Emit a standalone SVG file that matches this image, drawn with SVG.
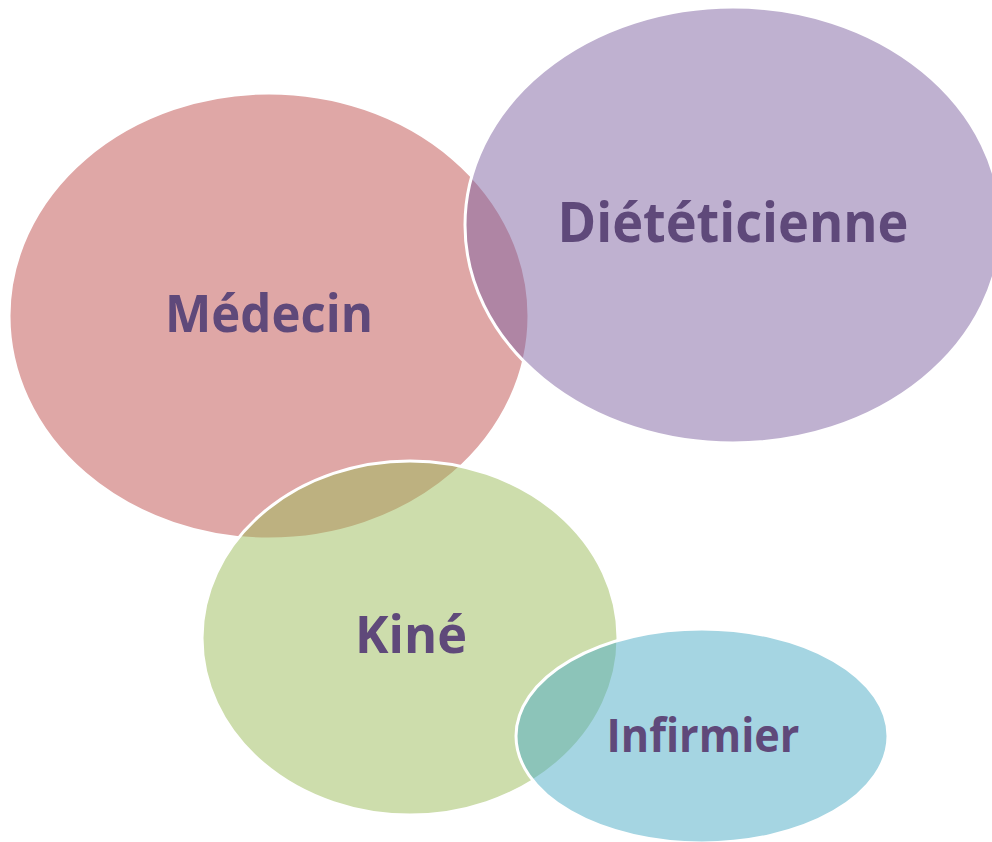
<svg xmlns="http://www.w3.org/2000/svg" width="992" height="842" viewBox="0 0 992 842">
<style>
.n{stroke:#ffffff;stroke-width:3;fill-opacity:0.5}
.t{font-family:"Open Sans","Liberation Sans",sans-serif;font-weight:bold;fill:#5F497A;text-anchor:middle}
</style>
<rect width="992" height="842" fill="#ffffff"/>
<g id="medecin">
<ellipse class="n" cx="269" cy="316" rx="260" ry="223" fill="#C0504D"/>
<text class="t" x="269" y="332" font-size="52" textLength="208" lengthAdjust="spacingAndGlyphs">Médecin</text>
</g>
<g id="dieteticienne">
<ellipse class="n" cx="733" cy="225" rx="268" ry="218" fill="#8064A2"/>
<text class="t" x="733" y="242" font-size="56" textLength="351" lengthAdjust="spacingAndGlyphs">Diététicienne</text>
</g>
<g id="kine">
<ellipse class="n" cx="410" cy="638" rx="208" ry="177" fill="#9BBB59"/>
<text class="t" x="411" y="653" font-size="52" textLength="112" lengthAdjust="spacingAndGlyphs">Kiné</text>
</g>
<g id="infirmier">
<ellipse class="n" cx="702" cy="736" rx="186" ry="107" fill="#4BACC6"/>
<text class="t" x="703" y="752" font-size="47" textLength="193" lengthAdjust="spacingAndGlyphs">Infirmier</text>
</g>
<g id="connectors"/>
</svg>
